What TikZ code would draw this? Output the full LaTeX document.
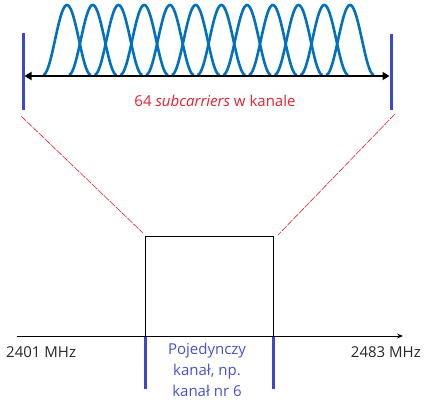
\documentclass[tikz,border=0pt]{standalone}
\usepackage{fontspec}
\setmainfont{Open Sans}
\usetikzlibrary{arrows.meta}
\definecolor{curveblue}{RGB}{0,112,192}
\definecolor{barblue}{RGB}{63,72,204}
\definecolor{txtblue}{RGB}{70,82,206}
\definecolor{txtred}{RGB}{232,32,44}
\definecolor{txtgray}{RGB}{40,40,40}
\tikzset{
  hump/.style={curveblue, line width=2.6pt},
  bar/.style={barblue, line width=3pt},
  zoomline/.style={txtred, line width=0.6pt, dash pattern=on 7pt off 1.2pt},
  lbl/.style={inner sep=0pt, font=\fontsize{15}{21}\selectfont},
}
\begin{document}
\begin{tikzpicture}[x=1pt,y=-1pt]
\useasboundingbox (0,0) rectangle (427,409);
% subcarriers
\foreach \i in {0,...,11}{
  \pgfmathsetmacro{\p}{67+\i*25.73}
  \draw[hump] plot[domain=-24:24, samples=41, smooth] ({\p+\x},{40-35*cos(180*\x/24)});
}
% top bars and arrow
\coordinate (tl) at (23,33);
\coordinate (tlb) at (23,110);
\coordinate (tr) at (391,34);
\coordinate (trb) at (391,110);
\draw[bar] (tl) -- (tlb);
\draw[bar] (tr) -- (trb);
\coordinate (al) at (24.5,76);
\coordinate (ar) at (389.5,76);
\draw[line width=2.6pt, {Triangle[length=7pt,width=8pt]}-{Triangle[length=7pt,width=8pt]}] (al) -- (ar);
\node[lbl, txtred, anchor=base] (sub) at (215,106) {64 \textit{subcarriers} w kanale};
% channel box
\node[draw=black, line width=1.3pt, minimum width=128pt, minimum height=100pt, inner sep=0pt, anchor=north west] (box) at (145,236) {};
% zoom lines
\coordinate (zl) at (21,116);
\coordinate (zr) at (395,114);
\coordinate (bl) at (143,233);
\coordinate (br) at (278,235);
\draw[zoomline] (zl) -- (bl);
\draw[zoomline] (zr) -- (br);
% axis
\coordinate (axl) at (17,336);
\coordinate (axr) at (403,336);
\draw[line width=1pt, -{Stealth[length=6pt,width=5pt]}] (axl) -- (axr);
% bottom bars
\coordinate (bbl) at (145,337);
\coordinate (bbl2) at (145,389);
\coordinate (bbr) at (273,337);
\coordinate (bbr2) at (273,389);
\draw[bar] (bbl) -- (bbl2);
\draw[bar] (bbr) -- (bbr2);
% labels
\node[lbl, txtgray, anchor=base west] (f1) at (6,357) {2401 MHz};
\node[lbl, txtgray, anchor=base east] (f2) at (421,357) {2483 MHz};
\node[lbl, txtblue, align=center, anchor=center] (ch) at (207,370) {Pojedynczy\\kanał, np.\\kanał nr 6};
\end{tikzpicture}
\end{document}
